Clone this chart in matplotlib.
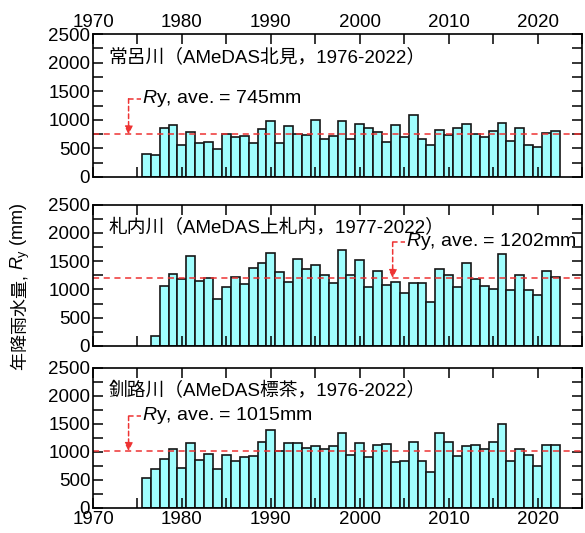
import numpy as np
import matplotlib
matplotlib.use('Agg')
import matplotlib.pyplot as plt
from matplotlib.ticker import MultipleLocator

plt.rcParams['font.family'] = ['Liberation Sans', 'Noto Sans CJK JP']
plt.rcParams['mathtext.fontset'] = 'custom'
plt.rcParams['mathtext.rm'] = 'Liberation Sans'
plt.rcParams['mathtext.it'] = 'Liberation Sans:italic'
plt.rcParams['font.size'] = 11

# data (annual rainfall, mm)
years_tokoro = np.arange(1976, 2023)
rain_tokoro = [406, 388, 853, 918, 565, 782, 600, 618, 494, 753,
               694, 712, 588, 835, 988, 588, 900, 753, 741, 994,
               659, 724, 976, 659, 929, 859, 788, 606, 918, 694,
               1082, 671, 565, 818, 741, 853, 929, 753, 706, 800,
               947, 635, 865, 565, 518, 771, 806]

years_satsunai = np.arange(1977, 2023)
rain_satsunai = [176, 1065, 1265, 1176, 1600, 1153, 1206, 835, 1041, 1218,
                 1088, 1376, 1471, 1647, 1306, 1135, 1547, 1365, 1435, 1247,
                 1118, 1706, 1253, 1524, 1041, 1318, 1082, 1135, 941, 1118,
                 1118, 771, 1365, 1247, 1047, 1476, 1176, 1059, 1000, 1624,
                 994, 1247, 994, 894, 1318, 1218]

years_kushiro = np.arange(1976, 2023)
rain_kushiro = [529, 700, 865, 1047, 718, 1165, 847, 971, 694, 953,
                841, 906, 918, 1171, 1382, 1018, 1159, 1153, 1071, 1100,
                1059, 1112, 1335, 953, 1159, 906, 1124, 1135, 818, 841,
                1176, 835, 641, 1335, 1171, 924, 1106, 1129, 1047, 1171,
                1494, 829, 1059, 953, 753, 1129, 1124]

titles = ['常呂川（AMeDAS北見，1976-2022）',
          '札内川（AMeDAS上札内，1977-2022）',
          '釧路川（AMeDAS標茶，1976-2022）']
averages = [745, 1202, 1015]
# arrow x (year) and text height for each average label
arrow_x = [1974, 2003.7, 1974]
label_y = [1370, 1840, 1640]

panels = [(years_tokoro, rain_tokoro),
          (years_satsunai, rain_satsunai),
          (years_kushiro, rain_kushiro)]

fig = plt.figure(figsize=(5.85, 5.33), dpi=100)
left, width = 0.159, 0.836
rects = [(left, 0.668, width, 0.268),
         (left, 0.351, width, 0.265),
         (left, 0.047, width, 0.263)]

red = '#ee3333'
for i, (rect, (yrs, vals)) in enumerate(zip(rects, panels)):
    ax = fig.add_axes(rect)
    ax.bar(yrs, vals, width=1.0, color='#a0fefe', edgecolor='#151515', linewidth=1.2)
    ax.axhline(averages[i], color=red, linestyle=(0, (4, 3)), linewidth=1.1)
    ax.set_xlim(1970, 2025)
    ax.set_ylim(0, 2500)
    ax.xaxis.set_major_locator(MultipleLocator(10))
    ax.xaxis.set_minor_locator(MultipleLocator(5))
    ax.yaxis.set_major_locator(MultipleLocator(500))
    ax.yaxis.set_minor_locator(MultipleLocator(250))
    ax.tick_params(which='both', direction='in', top=True, right=True,
                   length=7, width=1.1, labelsize=13.5, pad=2)
    for s in ax.spines.values():
        s.set_linewidth(1.2)
    if i == 0:
        ax.tick_params(labeltop=True, labelbottom=False)
    elif i == 1:
        ax.tick_params(labelbottom=False)
    ax.text(1971.7, 2090, titles[i], fontsize=13.5, va='center', ha='left')

    # average label with dashed arrow
    ax_x = arrow_x[i]
    ax.plot([ax_x, ax_x + 1.4], [label_y[i], label_y[i]], color=red,
            linestyle=(0, (3, 2)), linewidth=1.1)
    ax.annotate('', xy=(ax_x, averages[i]), xytext=(ax_x, label_y[i]),
                arrowprops=dict(arrowstyle='-|>', color=red, linestyle=(0, (3, 2)),
                                linewidth=1.1, mutation_scale=12,
                                shrinkA=0, shrinkB=0))
    ax.text(ax_x + 1.5, label_y[i], '$R$y, ave. = %dmm' % averages[i],
            fontsize=14, va='center', ha='left')

# y label in two pieces: CJK part and the math part
fig.text(0.035, 0.493, '年降雨水量, ', rotation=90,
         va='top', ha='center', fontsize=13)
fig.text(0.035, 0.493, '$R_\\mathrm{y}$ (mm)', rotation=90,
         va='bottom', ha='center', fontsize=13)

fig.savefig('out.png', dpi=100)
